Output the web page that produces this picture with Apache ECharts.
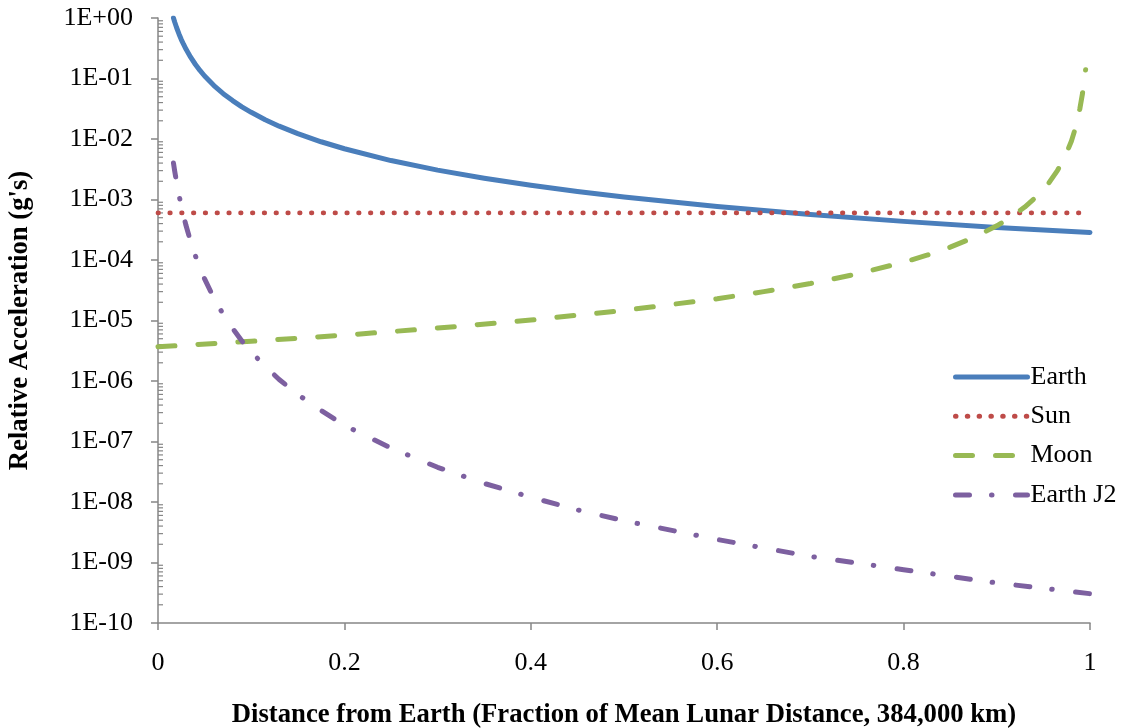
<!DOCTYPE html>
<html>
<head>
<meta charset="utf-8">
<script src="https://cdn.jsdelivr.net/npm/echarts@6/dist/echarts.min.js"></script>
<style>
  html, body { margin: 0; padding: 0; background: #ffffff; }
  #chart { width: 1125px; height: 728px; }
</style>
</head>
<body>
<div id="chart"></div>
<script>
// ---- Data ----
const seriesNames = ['Earth', 'Sun', 'Moon', 'Earth J2'];

const earthX = [0.0166, 0.018, 0.02, 0.0225, 0.025, 0.0275, 0.03, 0.035, 0.04, 0.045, 0.05, 0.06, 0.07, 0.08, 0.09, 0.1, 0.115, 0.13, 0.15, 0.175, 0.2, 0.25, 0.3, 0.35, 0.4, 0.45, 0.5, 0.6, 0.7, 0.8, 0.9, 1.0];
const earthY = [1.0, 0.85, 0.69, 0.545, 0.44, 0.365, 0.306, 0.225, 0.172, 0.136, 0.11, 0.0765, 0.0562, 0.0431, 0.034, 0.0276, 0.0208, 0.0163, 0.0123, 0.009, 0.0069, 0.0044, 0.00306, 0.00225, 0.00172, 0.00136, 0.0011, 0.000765, 0.000565, 0.000435, 0.000345, 0.000285];

const sunX = [0, 0.25, 0.5, 0.75, 1.0];
const sunY = [0.0006, 0.0006, 0.0006, 0.0006, 0.0006];

const moonX = [0, 0.1, 0.2, 0.3, 0.4, 0.5, 0.6, 0.65, 0.7, 0.75, 0.8, 0.825, 0.85, 0.875, 0.9, 0.915, 0.93, 0.945, 0.955, 0.965, 0.973, 0.98, 0.985, 0.989, 0.992, 0.9953];
const moonY = [3.67e-6, 4.53e-6, 5.73e-6, 7.49e-6, 1.02e-5, 1.47e-5, 2.29e-5, 3.0e-5, 4.08e-5, 5.87e-5, 9.18e-5, 1.2e-4, 1.63e-4, 2.35e-4, 3.67e-4, 5.1e-4, 7.5e-4, 1.2e-3, 1.8e-3, 3.0e-3, 5.0e-3, 9.2e-3, 1.63e-2, 3.1e-2, 5.7e-2, 0.14];

const j2X = [0.0166, 0.018, 0.02, 0.0225, 0.025, 0.0275, 0.03, 0.035, 0.04, 0.045, 0.05, 0.06, 0.07, 0.08, 0.09, 0.1, 0.115, 0.13, 0.15, 0.175, 0.2, 0.25, 0.3, 0.35, 0.4, 0.45, 0.5, 0.6, 0.7, 0.8, 0.9, 1.0];
const j2Y = [4.0e-3, 2.9e-3, 1.9e-3, 1.19e-3, 7.8e-4, 5.3e-4, 3.75e-4, 2.02e-4, 1.19e-4, 7.4e-5, 4.86e-5, 2.34e-5, 1.26e-5, 7.4e-6, 4.6e-6, 3.04e-6, 1.74e-6, 1.06e-6, 6.0e-7, 3.25e-7, 1.85e-7, 7.8e-8, 3.75e-8, 2.03e-8, 1.2e-8, 7.4e-9, 4.9e-9, 2.4e-9, 1.26e-9, 7.6e-10, 4.6e-10, 3.05e-10];

const xTickLabels = ['0', '0.2', '0.4', '0.6', '0.8', '1'];
const yTickLabels = ['1E+00', '1E-01', '1E-02', '1E-03', '1E-04', '1E-05', '1E-06', '1E-07', '1E-08', '1E-09', '1E-10'];
const minorMultipliers = [2, 3, 4, 5, 6, 7, 8, 9];

const xTitle = 'Distance from Earth (Fraction of Mean Lunar Distance, 384,000 km)';
const yTitle = "Relative Acceleration (g's)";

// ---- build ----
const zip = (xs, ys) => xs.map((x, i) => [x, ys[i]]);
const minorTickData = [];
for (let e = -10; e < 0; e++) {
  minorMultipliers.forEach(m => minorTickData.push([0, m * Math.pow(10, e)]));
}

const FONT = '"Liberation Serif", "Times New Roman", serif';
const AXIS_COLOR = '#868686';

const chart = echarts.init(document.getElementById('chart'), null, { renderer: 'canvas' });

const lineBase = { type: 'line', showSymbol: false, symbol: 'none', smooth: false, animation: false, emphasis: { disabled: true } };

chart.setOption({
  backgroundColor: '#ffffff',
  animation: false,
  grid: { left: 158, right: 35, top: 18, bottom: 105, containLabel: false, outerBoundsMode: 'none' },
  legend: {
    data: seriesNames,
    orient: 'vertical',
    left: 953,
    top: 364,
    padding: 0,
    itemWidth: 72,
    itemHeight: 26,
    itemGap: 13.3,
    itemStyle: { opacity: 0 },
    lineStyle: { width: 5, cap: 'round' },
    textStyle: { fontFamily: FONT, fontSize: 26, color: '#000', lineHeight: 26, padding: [0, 0, 0, -2] }
  },
  xAxis: {
    type: 'value',
    min: 0, max: 1, interval: 0.2,
    name: xTitle,
    nameLocation: 'middle',
    nameGap: 79,
    nameTextStyle: { fontFamily: FONT, fontSize: 26.7, fontWeight: 'bold', color: '#000' },
    axisLine: { show: true, onZero: false, lineStyle: { color: AXIS_COLOR, width: 1.5 } },
    axisTick: { show: true, length: 7, lineStyle: { color: AXIS_COLOR, width: 1.5 } },
    axisLabel: {
      fontFamily: FONT, fontSize: 26, color: '#000', margin: 27,
      formatter: (v) => xTickLabels[Math.round(v / 0.2)]
    },
    splitLine: { show: false }
  },
  yAxis: {
    type: 'log',
    logBase: 10,
    min: 1e-10, max: 1,
    interval: 1,
    name: yTitle,
    nameLocation: 'middle',
    nameRotate: 90,
    nameGap: 124,
    nameTextStyle: { fontFamily: FONT, fontSize: 26.7, fontWeight: 'bold', color: '#000' },
    axisLine: { show: true, lineStyle: { color: AXIS_COLOR, width: 1.5 } },
    axisTick: { show: true, length: 7, lineStyle: { color: AXIS_COLOR, width: 1.5 } },
    axisLabel: {
      fontFamily: FONT, fontSize: 26, color: '#000', margin: 25,
      formatter: (v) => yTickLabels[Math.round(-Math.log10(v))]
    },
    splitLine: { show: false }
  },
  series: [
    Object.assign({}, lineBase, {
      name: 'Earth', data: zip(earthX, earthY), z: 3,
      itemStyle: { color: '#4A7EBB' },
      lineStyle: { color: '#4A7EBB', width: 5, cap: 'round', join: 'round' }
    }),
    Object.assign({}, lineBase, {
      name: 'Sun', data: zip(sunX, sunY), z: 4,
      itemStyle: { color: '#BE4B48' },
      lineStyle: { color: '#BE4B48', width: 4.8, type: [0.5, 11.3], cap: 'round' }
    }),
    Object.assign({}, lineBase, {
      name: 'Moon', data: zip(moonX, moonY), z: 5,
      itemStyle: { color: '#98B954' },
      lineStyle: { color: '#98B954', width: 5, type: [17, 23], cap: 'round', join: 'round' }
    }),
    Object.assign({}, lineBase, {
      name: 'Earth J2', data: zip(j2X, j2Y), z: 6,
      itemStyle: { color: '#7D60A0' },
      lineStyle: { color: '#7D60A0', width: 5, type: [14, 22, 0.5, 23.5], cap: 'round', join: 'round' }
    }),
    {
      type: 'custom',
      name: 'minorTicks',
      data: minorTickData,
      silent: true,
      clip: false,
      z: 2,
      renderItem: function (params, api) {
        const p = api.coord([api.value(0), api.value(1)]);
        return {
          type: 'line',
          shape: { x1: p[0], y1: p[1], x2: p[0] + 5, y2: p[1] },
          style: { stroke: AXIS_COLOR, lineWidth: 1.2 }
        };
      }
    }
  ]
});
</script>
</body>
</html>
